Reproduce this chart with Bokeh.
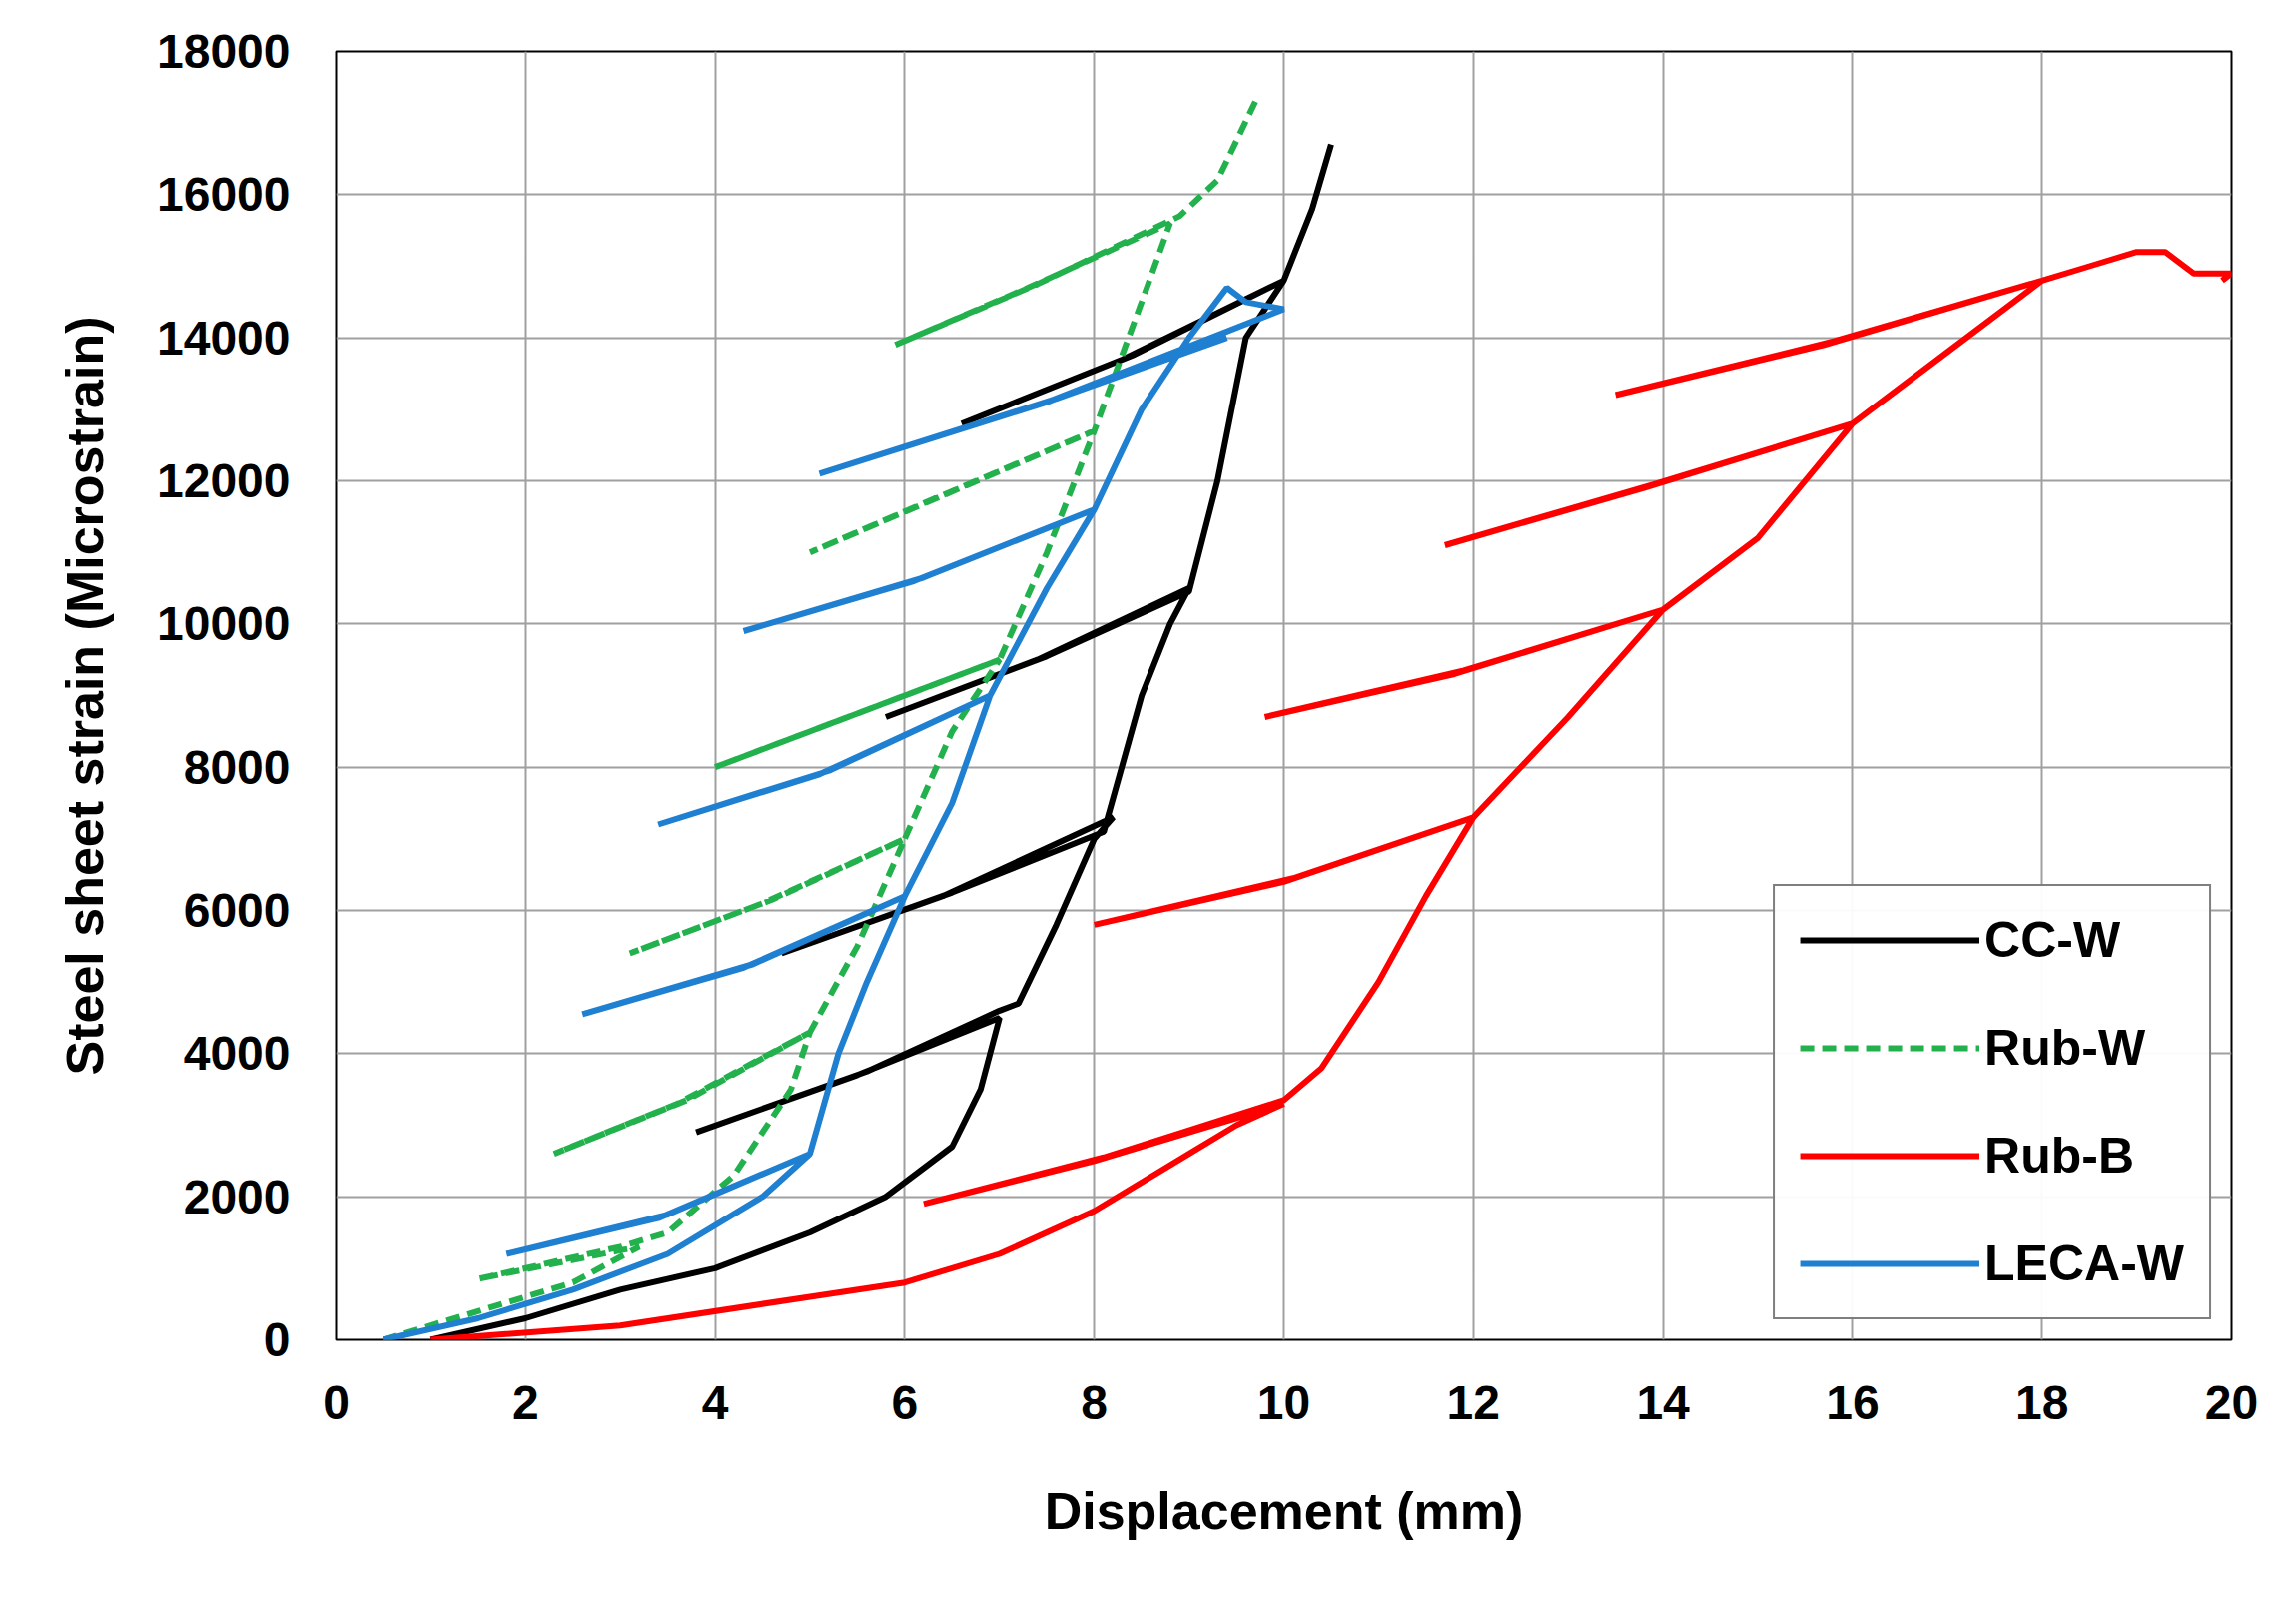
from bokeh.plotting import figure
from bokeh.models import Legend, LegendItem, FixedTicker
from bokeh.embed import file_html
from bokeh.resources import INLINE

cc_x = [1,2,3,4,5,5.8,6.2,6.5,6.8,7.0, 5.5,3.8,5.6,7.0, 7.2,7.6,8.0,8.2, 6.4,4.7,6.5,8.1, 8.5,8.8,9.0, 7.4,5.8,7.5,9.0, 9.3,9.6,10.0, 8.3,6.6,8.4,10.0, 10.3,10.5]
cc_y = [0,300,700,1000,1500,2000,2400,2700,3500,4500, 3700,2900,3750,4600, 4700,5800,7000,7300, 6200,5400,6250,7100, 9000,10000,10500, 9500,8700,9550,10450, 12000,14000,14800, 13700,12800,13750,14800, 15800,16700]

rw_x = [0.5,1.5,2.5,3.2,3.0,1.5,3.0, 3.5,4.2,4.8,5.0, 3.6,2.3,3.7,5.0, 5.5,6.0, 4.5,3.1,4.6,6.0, 6.5,7.0, 5.4,4.0,5.5,7.0, 7.5,8.0, 6.4,5.0,6.5,8.0, 8.5,8.8, 7.3,5.9,7.4,8.9, 9.3,9.7]
rw_y = [0,400,800,1300,1250,850,1300, 1500,2300,3500,4300, 3300,2600,3350,4300, 5500,7000, 6100,5400,6150,7000, 8500,9500, 8700,8000,8750,9500, 11000,12700, 11800,11000,11850,12700, 14500,15600, 14700,13900,14750,15700, 16200,17300]

rb_x = [1,3,5,6,7,8,9,9.5,10.0, 8.0,6.2,8.1,10.0, 10.4,11.0,11.5,12.0, 10.0,8.0,10.1,12.0, 13.0,14.0, 11.8,9.8,11.9,14.0, 15.0,16.0, 13.8,11.7,13.9,16.0, 17.0,18.0, 15.7,13.5,15.8,18.0, 18.5,19.0,19.3,19.6,20.0,19.9]
rb_y = [0,200,600,800,1200,1800,2600,3000,3300, 2500,1900,2550,3350, 3800,5000,6200,7300, 6400,5800,6450,7300, 8700,10200, 9300,8700,9350,10200, 11200,12800, 11900,11100,11950,12800, 13800,14800, 13900,13200,13950,14800, 15000,15200,15200,14900,14900,14800]

lw_x = [0.5,1.5,2.5,3.5,4.5,5.0, 3.4,1.8,3.5,5.0, 5.3,5.6,6.0, 4.3,2.6,4.4,6.0, 6.5,6.9, 5.1,3.4,5.2,6.9, 7.5,8.0, 6.1,4.3,6.2,8.0, 8.5,9.0,9.4,9.6,10.0, 7.5,5.1,7.6,9.4]
lw_y = [0,300,700,1200,2000,2600, 1700,1200,1750,2600, 4000,5000,6200, 5200,4550,5250,6200, 7500,9000, 7900,7200,7950,9000, 10500,11600, 10600,9900,10650,11600, 13000,14000,14700,14500,14400, 13100,12100,13150,14000]

xticks = list(range(0, 21, 2))
yticks = list(range(0, 18001, 2000))

p = figure(width=2280, height=1600, x_range=(0, 20), y_range=(0, 18000),
           output_backend="svg", toolbar_location=None,
           min_border_left=336, min_border_right=46, min_border_top=51, min_border_bottom=259)
p.outline_line_color = "black"
p.outline_line_width = 2
p.xaxis.ticker = FixedTicker(ticks=xticks)
p.yaxis.ticker = FixedTicker(ticks=yticks)
for ax in (p.xaxis, p.yaxis):
    ax.major_label_text_font = "Liberation Sans"
    ax.major_label_text_font_style = "bold"
    ax.major_label_text_font_size = "48px"
    ax.major_label_text_color = "black"
    ax.axis_label_text_font = "Liberation Sans"
    ax.axis_label_text_font_style = "bold"
    ax.axis_label_text_font_size = "52px"
    ax.axis_label_text_color = "black"
    ax.axis_line_color = None
    ax.major_tick_line_color = None
    ax.minor_tick_line_color = None
p.xaxis.major_label_standoff = 40
p.xaxis.axis_label_standoff = 60
p.yaxis.major_label_standoff = 40
p.yaxis.axis_label_standoff = 40
p.xaxis.axis_label = "Displacement (mm)"
p.yaxis.axis_label = "Steel sheet strain (Microstrain)"
p.grid.grid_line_color = "#a0a0a0"
p.grid.grid_line_width = 2
p.grid.grid_line_alpha = 1

r1 = p.line(cc_x, cc_y, line_color="black", line_width=6)
r2 = p.line(rw_x, rw_y, line_color="#22b14c", line_width=6, line_dash="14 8")
r3 = p.line(rb_x, rb_y, line_color="#ff0000", line_width=6)
r4 = p.line(lw_x, lw_y, line_color="#1f7fd0", line_width=6)

leg = Legend(items=[LegendItem(label="CC-W", renderers=[r1]),
                    LegendItem(label="Rub-W", renderers=[r2]),
                    LegendItem(label="Rub-B", renderers=[r3]),
                    LegendItem(label="LECA-W", renderers=[r4])],
             location="bottom_right")
leg.label_text_font = "Liberation Sans"
leg.label_text_font_style = "bold"
leg.label_text_font_size = "50px"
leg.label_text_color = "black"
leg.glyph_width = 180
leg.spacing = 50
leg.padding = 25
leg.border_line_color = "black"
leg.border_line_width = 2
leg.margin = 20
p.add_layout(leg)

open("out.html", "w").write(file_html(p, INLINE))
